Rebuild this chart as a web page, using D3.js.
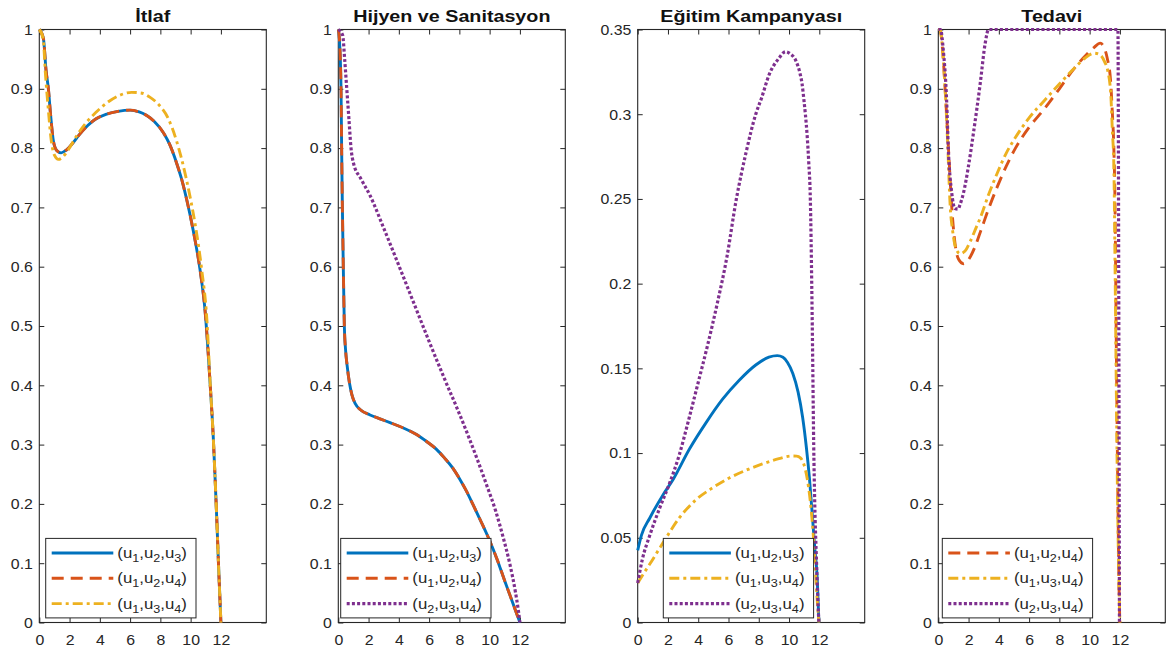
<!DOCTYPE html>
<html><head><meta charset="utf-8">
<script src="https://cdn.jsdelivr.net/npm/d3@7"></script>
<style>body{margin:0;background:#fff;} svg{display:block;}</style>
</head><body><svg id="c" width="1170" height="653"></svg>
<script>
// ---------- DATA ----------
const titles = ["İtlaf", "Hijyen ve Sanitasyon", "Eğitim Kampanyası", "Tedavi"];
const xTicks = [0, 2, 4, 6, 8, 10, 12];
const yTicksUnit = [0, 0.1, 0.2, 0.3, 0.4, 0.5, 0.6, 0.7, 0.8, 0.9, 1];
const yTicksEdu = [0, 0.05, 0.1, 0.15, 0.2, 0.25, 0.3, 0.35];
const legendSubs = { u123: ["1","2","3"], u124: ["1","2","4"], u134: ["1","3","4"], u234: ["2","3","4"] };

// İtlaf
const itlafU123 = [[0,1],[0.27,0.985],[0.45,0.93],[0.6,0.9],[0.75,0.855],[0.93,0.812],[1.15,0.796],[1.45,0.792],[1.8,0.797],[2.2,0.808],[2.62,0.822],[3.2,0.838],[3.73,0.849],[4.4,0.857],[5.2,0.862],[6.0,0.864],[6.6,0.861],[7.1,0.855],[7.6,0.845],[8.2,0.826],[8.6,0.807],[9.07,0.775],[9.4,0.748],[9.75,0.712],[10.18,0.66],[10.62,0.595],[10.96,0.524],[11.29,0.402],[11.5,0.31],[11.62,0.241],[11.75,0.16],[11.84,0.099],[11.92,0.05],[12,0]];
const itlafU124 = [[0,1],[0.27,0.985],[0.45,0.93],[0.6,0.9],[0.75,0.855],[0.93,0.812],[1.15,0.796],[1.45,0.792],[1.8,0.797],[2.2,0.808],[2.62,0.822],[3.2,0.838],[3.73,0.849],[4.4,0.857],[5.2,0.862],[6.0,0.864],[6.6,0.861],[7.1,0.855],[7.6,0.845],[8.2,0.826],[8.6,0.807],[9.07,0.775],[9.4,0.748],[9.75,0.712],[10.18,0.66],[10.62,0.595],[10.96,0.524],[11.29,0.402],[11.5,0.31],[11.62,0.241],[11.75,0.16],[11.84,0.099],[11.92,0.05],[12,0]];
const itlafU134 = [[0,1],[0.25,0.985],[0.42,0.92],[0.58,0.87],[0.78,0.815],[1.0,0.788],[1.26,0.781],[1.55,0.785],[1.96,0.799],[2.5,0.822],[3.1,0.843],[3.73,0.86],[4.5,0.877],[5.3,0.889],[6.1,0.894],[6.7,0.893],[7.3,0.886],[7.9,0.873],[8.5,0.851],[9.07,0.812],[9.4,0.782],[10.0,0.713],[10.29,0.673],[10.73,0.595],[11.07,0.512],[11.29,0.405],[11.5,0.31],[11.62,0.241],[11.75,0.16],[11.84,0.099],[11.92,0.05],[12,0]];

// Hijyen ve Sanitasyon
const hijyenU123 = [[0,1],[0.07,0.985],[0.18,0.9],[0.22,0.8],[0.27,0.7],[0.33,0.6],[0.4,0.5],[0.48,0.46],[0.58,0.434],[0.75,0.402],[0.9,0.384],[1.12,0.369],[1.5,0.358],[2.1,0.35],[2.8,0.343],[3.42,0.337],[4.3,0.328],[5.17,0.317],[5.9,0.304],[6.49,0.292],[7.0,0.278],[7.58,0.26],[8.0,0.243],[8.46,0.222],[8.88,0.2],[9.4,0.172],[9.97,0.14],[10.5,0.106],[11.0,0.07],[11.5,0.035],[11.8,0.014],[12,0]];
const hijyenU124 = [[0,1],[0.07,0.985],[0.18,0.9],[0.22,0.8],[0.27,0.7],[0.33,0.6],[0.4,0.5],[0.48,0.46],[0.58,0.434],[0.75,0.402],[0.9,0.384],[1.12,0.369],[1.5,0.358],[2.1,0.35],[2.8,0.343],[3.42,0.337],[4.3,0.328],[5.17,0.317],[5.9,0.304],[6.49,0.292],[7.0,0.278],[7.58,0.26],[8.0,0.243],[8.46,0.222],[8.88,0.2],[9.4,0.172],[9.97,0.14],[10.5,0.106],[11.0,0.07],[11.5,0.035],[11.8,0.014],[12,0]];
const hijyenU234 = [[0,1],[0.29,0.99],[0.42,0.95],[0.56,0.9],[0.7,0.85],[0.84,0.8],[1.0,0.775],[1.5,0.748],[2.1,0.72],[3.0,0.665],[4.0,0.602],[5.0,0.538],[6.0,0.474],[7.0,0.412],[8.0,0.352],[8.6,0.314],[9.2,0.274],[9.8,0.232],[10.4,0.188],[10.9,0.143],[11.35,0.097],[11.7,0.052],[11.9,0.02],[12,0]];

// Eğitim Kampanyası
const egitimU123 = [[0,0.0426],[0.25,0.0516],[0.8,0.0617],[1.67,0.0753],[2.33,0.0843],[3.42,0.1024],[4.52,0.118],[5.61,0.1318],[6.71,0.143],[7.8,0.152],[8.67,0.1566],[9.22,0.1575],[9.6,0.1565],[9.9,0.1535],[10.25,0.147],[10.6,0.136],[10.9,0.121],[11.15,0.103],[11.35,0.085],[11.55,0.062],[11.72,0.042],[11.85,0.028],[11.97,0]];
const egitimU134 = [[0,0.0233],[0.4,0.029],[0.8,0.0345],[1.67,0.047],[2.77,0.062],[3.86,0.0725],[4.95,0.0795],[6.05,0.0853],[7.14,0.0898],[8.24,0.0936],[9.33,0.0967],[10.2,0.0983],[10.5,0.0982],[10.75,0.0972],[10.98,0.0934],[11.2,0.085],[11.4,0.072],[11.55,0.058],[11.7,0.038],[11.85,0.015],[11.97,0]];
const egitimU234 = [[0,0.0233],[0.3,0.037],[0.8,0.0515],[1.45,0.0675],[2.1,0.082],[2.75,0.099],[3.35,0.119],[3.95,0.14],[4.6,0.163],[5.25,0.188],[5.9,0.216],[6.5,0.249],[7.15,0.277],[7.8,0.3],[8.2,0.31],[8.67,0.323],[9.33,0.333],[9.77,0.3369],[10.1,0.3355],[10.43,0.332],[10.7,0.325],[10.86,0.318],[11.0,0.307],[11.08,0.3],[11.2,0.287],[11.3,0.272],[11.41,0.249],[11.5,0.2],[11.57,0.15],[11.63,0.105],[11.7,0.07],[11.8,0.04],[11.9,0.015],[11.97,0]];

// Tedavi
const tedaviU124 = [[0,1],[0.11,1.0],[0.3,0.96],[0.45,0.9],[0.67,0.8],[0.89,0.7],[1.1,0.64],[1.35,0.612],[1.66,0.605],[2.0,0.612],[2.4,0.632],[2.8,0.66],[3.3,0.696],[3.9,0.735],[4.5,0.77],[5.1,0.8],[6.0,0.835],[7.0,0.866],[8.0,0.9],[9.0,0.935],[9.8,0.958],[10.3,0.97],[10.7,0.977],[10.95,0.97],[11.16,0.952],[11.38,0.915],[11.5,0.86],[11.6,0.8],[11.68,0.7],[11.75,0.5],[11.85,0.25],[11.95,0.05],[12,0]];
const tedaviU134 = [[0,1],[0.11,1.0],[0.3,0.96],[0.45,0.9],[0.6,0.82],[0.79,0.7],[0.95,0.66],[1.15,0.632],[1.44,0.622],[1.75,0.626],[2.1,0.642],[2.5,0.666],[2.8,0.684],[3.3,0.72],[3.9,0.758],[4.5,0.792],[5.0,0.814],[6.0,0.851],[7.0,0.88],[8.0,0.908],[9.0,0.935],[9.7,0.952],[10.3,0.96],[10.7,0.957],[11.0,0.945],[11.2,0.93],[11.4,0.89],[11.5,0.83],[11.6,0.77],[11.68,0.6],[11.76,0.4],[11.85,0.2],[11.95,0.05],[12,0]];
const tedaviU234 = [[0,1],[0.15,1.0],[0.33,0.965],[0.55,0.88],[0.66,0.8],[0.89,0.724],[1.1,0.698],[1.3,0.697],[1.44,0.705],[1.66,0.724],[1.99,0.769],[2.32,0.825],[2.77,0.909],[3.1,0.977],[3.32,1.0],[11.87,1.0],[11.92,0.6],[11.97,0]];

// ---------- LAYOUT / STYLE ----------
const FONT = '"Liberation Sans", Arial, Helvetica, sans-serif';
const AX = '#262626';
const TOP = 29.5, BOTTOM = 622.5, PW = 227;
const lefts = [39.3, 338.3, 637.7, 938.3];
const legendLeft = [6.4, 2.4, 25.6, 4.0];
const TICK_STRETCH = 1.06, TITLE_STRETCH = 1.16, LEG_STRETCH = 1.2;

const styles = {
  u123: {color: '#0072BD', dash: null, w: 2.9},
  u124: {color: '#D95319', dash: '12,7', w: 2.9},
  u134: {color: '#EDB120', dash: '10,4,3,4', w: 2.9},
  u234: {color: '#7E2F8E', dash: '3,2.2', w: 3.2}
};

const panels = [
  {title: titles[0], yMax: 1, yTicks: yTicksUnit, series: [['u123', itlafU123], ['u124', itlafU124], ['u134', itlafU134]]},
  {title: titles[1], yMax: 1, yTicks: yTicksUnit, series: [['u123', hijyenU123], ['u124', hijyenU124], ['u234', hijyenU234]]},
  {title: titles[2], yMax: 0.35, yTicks: yTicksEdu, series: [['u123', egitimU123], ['u134', egitimU134], ['u234', egitimU234]]},
  {title: titles[3], yMax: 1, yTicks: yTicksUnit, series: [['u124', tedaviU124], ['u134', tedaviU134], ['u234', tedaviU234]]}
];

const svg = d3.select('#c');
svg.append('rect').attr('width', 1170).attr('height', 653).attr('fill', '#fff');
const fmt = d => String(+d.toFixed(2));

function styleAxis(sel, showText) {
  sel.select('.domain').remove();
  sel.selectAll('.tick line').attr('stroke', AX).attr('stroke-width', 1);
  if (showText) {
    sel.selectAll('.tick text').attr('fill', AX).attr('font-size', 15).attr('font-family', FONT)
      .attr('transform', `scale(${TICK_STRETCH},1)`);
  } else {
    sel.selectAll('.tick text').remove();
  }
}

panels.forEach((p, i) => {
  const g = svg.append('g').attr('transform', `translate(${lefts[i]},0)`);
  const x = d3.scaleLinear().domain([0, 15]).range([0, PW]);
  const y = d3.scaleLinear().domain([0, p.yMax]).range([BOTTOM, TOP]);

  g.append('rect').attr('x', 0).attr('y', TOP).attr('width', PW).attr('height', BOTTOM - TOP)
    .attr('fill', 'none').attr('stroke', AX).attr('stroke-width', 1.1);

  g.append('g').attr('transform', `translate(0,${BOTTOM})`)
    .call(d3.axisBottom(x).tickValues(xTicks).tickFormat(fmt).tickSizeInner(-5).tickSizeOuter(0).tickPadding(12))
    .call(s => styleAxis(s, true));
  g.append('g').attr('transform', `translate(0,${TOP})`)
    .call(d3.axisTop(x).tickValues(xTicks).tickSizeInner(-5).tickSizeOuter(0))
    .call(s => styleAxis(s, false));
  g.append('g')
    .call(d3.axisLeft(y).tickValues(p.yTicks).tickFormat(fmt).tickSizeInner(-5).tickSizeOuter(0).tickPadding(6))
    .call(s => styleAxis(s, true));
  g.append('g').attr('transform', `translate(${PW},0)`)
    .call(d3.axisRight(y).tickValues(p.yTicks).tickSizeInner(-5).tickSizeOuter(0))
    .call(s => styleAxis(s, false));

  g.append('text').attr('transform', `translate(${PW / 2},22) scale(${TITLE_STRETCH},1)`)
    .attr('text-anchor', 'middle').attr('font-family', FONT).attr('font-weight', 'bold')
    .attr('font-size', 17).attr('fill', '#111').text(p.title);

  const line = d3.line().x(d => x(d[0])).y(d => y(d[1])).curve(d3.curveMonotoneX);
  p.series.forEach(([k, data]) => {
    g.append('path').attr('d', line(data)).attr('fill', 'none')
      .attr('stroke', styles[k].color).attr('stroke-width', styles[k].w)
      .attr('stroke-dasharray', styles[k].dash).attr('stroke-linejoin', 'round');
  });

  const LW = 150.3, LH = 79.5;
  const lg = g.append('g').attr('transform', `translate(${legendLeft[i]},${BOTTOM - 4.6 - LH})`);
  lg.append('rect').attr('width', LW).attr('height', LH).attr('fill', '#fff')
    .attr('stroke', AX).attr('stroke-width', 1);
  p.series.forEach(([k], j) => {
    const cy = 14.6 + j * 25.3;
    lg.append('line').attr('x1', 6).attr('x2', 67.6).attr('y1', cy).attr('y2', cy)
      .attr('stroke', styles[k].color).attr('stroke-width', styles[k].w)
      .attr('stroke-dasharray', styles[k].dash);
    const t = lg.append('text').attr('transform', `translate(71.6,${cy + 5}) scale(${LEG_STRETCH},1)`)
      .attr('font-family', FONT).attr('font-size', 14).attr('fill', AX);
    t.append('tspan').text('(u');
    legendSubs[k].forEach((s, m) => {
      t.append('tspan').attr('dy', 4).attr('font-size', 10.5).text(s);
      t.append('tspan').attr('dy', -4).text(m < 2 ? ',u' : ')');
    });
  });
});
</script>
</body></html>
